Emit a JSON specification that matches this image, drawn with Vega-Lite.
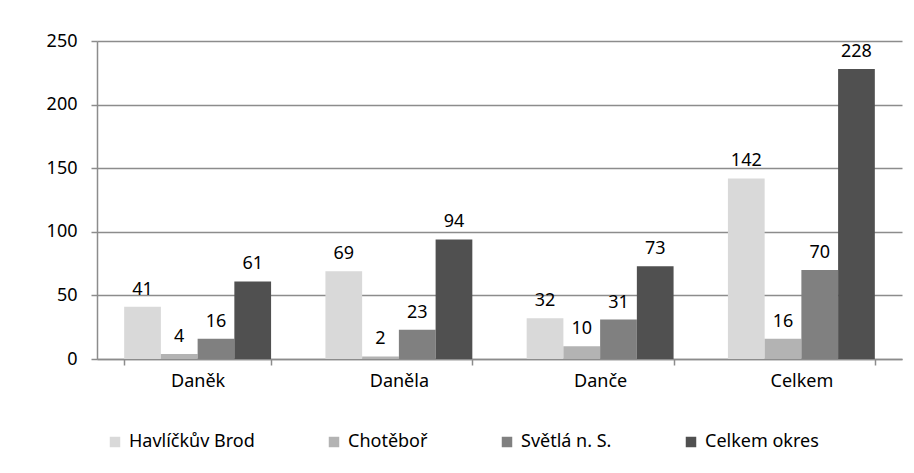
{
  "$schema": "https://vega.github.io/schema/vega-lite/v6.json",
  "width": 805,
  "height": 318,
  "autosize": {"type": "none"},
  "padding": {"left": 97, "top": 41, "right": 12, "bottom": 114},
  "background": "white",
  "config": {
    "view": {"stroke": null},
    "font": "Noto Sans"
  },
  "data": {
    "values": [
      {"cat": "Dan\u011bk", "series": "Havlíčkův Brod", "v": 41},
      {"cat": "Dan\u011bk", "series": "Chotěboř", "v": 4},
      {"cat": "Dan\u011bk", "series": "Světlá n. S.", "v": 16},
      {"cat": "Dan\u011bk", "series": "Celkem okres", "v": 61},
      {"cat": "Dan\u011bla", "series": "Havlíčkův Brod", "v": 69},
      {"cat": "Dan\u011bla", "series": "Chotěboř", "v": 2},
      {"cat": "Dan\u011bla", "series": "Světlá n. S.", "v": 23},
      {"cat": "Dan\u011bla", "series": "Celkem okres", "v": 94},
      {"cat": "Dan\u010de", "series": "Havlíčkův Brod", "v": 32},
      {"cat": "Dan\u010de", "series": "Chotěboř", "v": 10},
      {"cat": "Dan\u010de", "series": "Světlá n. S.", "v": 31},
      {"cat": "Dan\u010de", "series": "Celkem okres", "v": 73},
      {"cat": "Celkem", "series": "Havlíčkův Brod", "v": 142},
      {"cat": "Celkem", "series": "Chotěboř", "v": 16},
      {"cat": "Celkem", "series": "Světlá n. S.", "v": 70},
      {"cat": "Celkem", "series": "Celkem okres", "v": 228}
    ]
  },
  "encoding": {
    "x": {
      "field": "cat", "type": "nominal", "sort": null, "title": null,
      "scale": {"paddingInner": 0.27, "paddingOuter": 0.135},
      "axis": {"labelAngle": 0, "tickBand": "extent", "tickSize": 6, "labelPadding": 7, "grid": false,
        "labelFont": "Noto Sans", "labelFontSize": 18, "labelColor": "#000000",
        "domainColor": "#8c8c8c", "tickColor": "#8c8c8c", "domainWidth": 1.5, "tickWidth": 1.5}
    },
    "xOffset": {"field": "series", "type": "nominal", "sort": ["Havlíčkův Brod", "Chotěboř", "Světlá n. S.", "Celkem okres"], "scale": {"paddingInner": 0, "paddingOuter": 0}},
    "y": {
      "field": "v", "type": "quantitative", "title": null,
      "scale": {"domain": [0, 250], "nice": false},
      "axis": {"values": [0, 50, 100, 150, 200, 250], "tickSize": 6, "labelPadding": 14, "grid": true,
        "labelFont": "Noto Sans", "labelFontSize": 18, "labelColor": "#000000",
        "domainColor": "#8c8c8c", "tickColor": "#8c8c8c", "gridColor": "#8c8c8c", "domainWidth": 1.5, "tickWidth": 1.5, "gridWidth": 1.5}
    }
  },
  "layer": [
    {
      "mark": {"type": "bar"},
      "encoding": {
        "color": {
          "field": "series", "type": "nominal", "title": null,
          "sort": ["Havlíčkův Brod", "Chotěboř", "Světlá n. S.", "Celkem okres"],
          "scale": {"domain": ["Havlíčkův Brod", "Chotěboř", "Světlá n. S.", "Celkem okres"], "range": ["#d9d9d9", "#b3b3b3", "#808080", "#505050"]},
          "legend": {
            "orient": "none", "legendX": 9, "legendY": 392, "direction": "horizontal",
            "symbolType": "square", "symbolSize": 110, "symbolStrokeWidth": 0,
            "labelFont": "Noto Sans", "labelFontSize": 18, "labelColor": "#000000", "labelOffset": 5,
            "columnPadding": 70, "labelLimit": 300
          }
        }
      }
    },
    {
      "mark": {"type": "text", "baseline": "bottom", "dy": -8, "fontSize": 18, "color": "#000000", "font": "Noto Sans"},
      "encoding": {"text": {"field": "v", "type": "quantitative"}}
    }
  ]
}
